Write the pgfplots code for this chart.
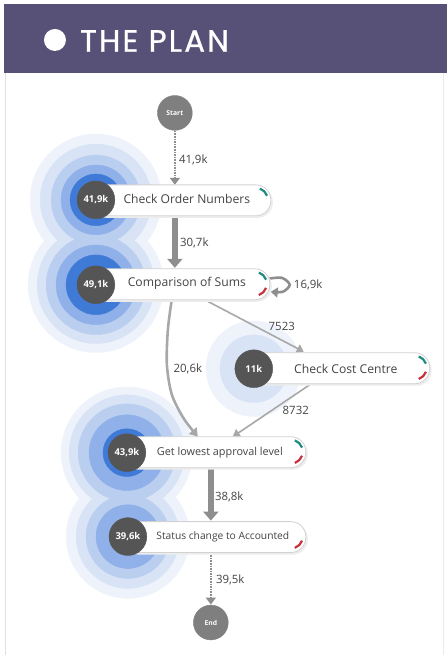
\documentclass[border=0pt]{standalone}
\usepackage{pgfplots}
\pgfplotsset{compat=1.18}
\usepackage{fontspec}
\setmainfont{Open Sans}
\newfontfamily\titlefont[LetterSpace=7,FakeBold=0.8]{Poppins}
\usetikzlibrary{arrows.meta}
\definecolor{band}{HTML}{575177}
\definecolor{hA}{HTML}{EEF3FB}
\definecolor{hB}{HTML}{D8E3F6}
\definecolor{hC}{HTML}{BACEF0}
\definecolor{hD}{HTML}{8FB0E8}
\definecolor{hE}{HTML}{3F7BD6}
\definecolor{darknode}{HTML}{555555}
\definecolor{endnode}{HTML}{7F7F7F}
\definecolor{edge}{HTML}{8E8E8E}
\definecolor{edgelight}{HTML}{A8A8A8}
\definecolor{boxline}{HTML}{D2D2D2}
\definecolor{tealc}{HTML}{1E8A80}
\definecolor{redc}{HTML}{C8303C}
\definecolor{lbl}{HTML}{444444}
\pgfplotsset{ring/.style={only marks, mark=*, mark size=#1}}
\begin{document}
\begin{tikzpicture}
\begin{axis}[scale only axis, width=447bp, height=655bp,
  xmin=0, xmax=447, ymin=0, ymax=655, y dir=reverse,
  hide axis, clip=false, clip marker paths=true, clip mode=individual]
% background and header
\fill[white] (axis cs:0,0) rectangle (axis cs:447,655);
\draw[black!12, line width=1bp] (axis cs:5.5,73) -- (axis cs:5.5,655);
\draw[black!8, line width=1bp] (axis cs:443.5,73) -- (axis cs:443.5,655);
\fill[band] (axis cs:4,4) rectangle (axis cs:447,73);
\fill[white] (axis cs:55,40) circle[radius=11bp];
\node[anchor=west, text=white, inner sep=0pt, font=\titlefont\fontsize{31}{31}\selectfont] at (axis cs:80,41) {THE PLAN};

% halos: outermost rings first
\addplot[ring=66pt, color=hA] coordinates {(96,200)};
\addplot[ring=68pt, color=hA] coordinates {(96,285)};
\addplot[ring=66pt, color=hA] coordinates {(127,453)};
\addplot[ring=62pt, color=hA] coordinates {(128,537)};
\addplot[ring=48pt, color=hA] coordinates {(254,369)};
\addplot[ring=56pt, color=hB] coordinates {(96,200)};
\addplot[ring=59pt, color=hB] coordinates {(96,285)};
\addplot[ring=58pt, color=hB] coordinates {(127,453)};
\addplot[ring=52pt, color=hB] coordinates {(128,537)};
\addplot[ring=34pt, color=hB] coordinates {(254,369)};
\addplot[ring=45pt, color=hC] coordinates {(96,200)};
\addplot[ring=50pt, color=hC] coordinates {(96,285)};
\addplot[ring=49pt, color=hC] coordinates {(127,453)};
\addplot[ring=42pt, color=hC] coordinates {(128,537)};
\addplot[ring=35pt, color=hD] coordinates {(96,200)};
\addplot[ring=40pt, color=hD] coordinates {(96,285)};
\addplot[ring=38pt, color=hD] coordinates {(127,453)};
\addplot[ring=32pt, color=hD] coordinates {(128,537)};
\addplot[ring=26pt, color=hE] coordinates {(96,200)};
\addplot[ring=30pt, color=hE] coordinates {(96,285)};
\addplot[ring=24pt, color=hE] coordinates {(127,453)};

% edges
\addplot[edge, line width=1.6pt, densely dotted, -{Triangle[width=10pt,length=7pt]}] coordinates {(175,131) (175,185)};
\addplot[edge, line width=6pt, -{Triangle[width=15pt,length=9pt]}] coordinates {(175,215) (175,268)};
\addplot[edgelight, line width=1.6pt, -{Triangle[width=9pt,length=7pt]}] coordinates {(203,299) (304,352)};
\addplot[edgelight, line width=2.6pt, smooth, -{Triangle[width=10pt,length=8pt]}] coordinates {(172,299) (168,330) (167,365) (172,395) (184,419) (198,437)};
\addplot[edgelight, line width=1.6pt, -{Triangle[width=9pt,length=7pt]}] coordinates {(313,383) (233,437)};
\addplot[edge, line width=6pt, -{Triangle[width=15pt,length=9pt]}] coordinates {(211,468) (211,521)};
\addplot[edge, line width=1.6pt, densely dotted, -{Triangle[width=10pt,length=7pt]}] coordinates {(211,553) (211,605)};
\addplot[edge, line width=2.6pt, smooth, -{Triangle[width=10pt,length=7pt]}] coordinates {(268,279) (282,278) (290,285) (283,292) (271,292)};

% boxes
\fill[black!7, rounded corners=15bp] (axis cs:92,187) rectangle (axis cs:273,218);
\draw[fill=white, draw=boxline, line width=0.8pt, rounded corners=15bp] (axis cs:90,185) rectangle (axis cs:271,216);
\fill[black!7, rounded corners=15bp] (axis cs:92,271) rectangle (axis cs:272,302);
\draw[fill=white, draw=boxline, line width=0.8pt, rounded corners=15bp] (axis cs:90,269) rectangle (axis cs:270,300);
\fill[black!7, rounded corners=15bp] (axis cs:252,355) rectangle (axis cs:432,386);
\draw[fill=white, draw=boxline, line width=0.8pt, rounded corners=15bp] (axis cs:250,353) rectangle (axis cs:430,384);
\fill[black!7, rounded corners=15bp] (axis cs:124,439) rectangle (axis cs:308,470);
\draw[fill=white, draw=boxline, line width=0.8pt, rounded corners=15bp] (axis cs:122,437) rectangle (axis cs:306,468);
\fill[black!7, rounded corners=15bp] (axis cs:124,524) rectangle (axis cs:308,555);
\draw[fill=white, draw=boxline, line width=0.8pt, rounded corners=15bp] (axis cs:122,522) rectangle (axis cs:306,553);

% status arcs
\draw[tealc, line width=2.2pt] (axis cs:256,200) ++(70:12bp) arc[start angle=70, end angle=20, radius=12bp];
\draw[tealc, line width=2.2pt] (axis cs:255,284) ++(70:12bp) arc[start angle=70, end angle=20, radius=12bp];
\draw[redc, line width=2.2pt] (axis cs:255,284) ++(-20:12bp) arc[start angle=-20, end angle=-70, radius=12bp];
\draw[tealc, line width=2.2pt] (axis cs:415,368) ++(70:12bp) arc[start angle=70, end angle=20, radius=12bp];
\draw[redc, line width=2.2pt] (axis cs:415,368) ++(-20:12bp) arc[start angle=-20, end angle=-70, radius=12bp];
\draw[tealc, line width=2.2pt] (axis cs:291,452) ++(70:12bp) arc[start angle=70, end angle=20, radius=12bp];
\draw[redc, line width=2.2pt] (axis cs:291,452) ++(-20:12bp) arc[start angle=-20, end angle=-70, radius=12bp];
\draw[redc, line width=2.2pt] (axis cs:291,537) ++(-20:12bp) arc[start angle=-20, end angle=-70, radius=12bp];

% node circles
\addplot[ring=19pt, color=darknode] coordinates {(96,200) (96,285) (254,369) (127,453) (128,537)};
\addplot[ring=17.5pt, color=endnode] coordinates {(175,113) (211,623)};

% node texts
\node[text=white, font=\bfseries\fontsize{6.8}{7}\selectfont] at (axis cs:175,113) {Start};
\node[text=white, font=\bfseries\fontsize{6.8}{7}\selectfont] at (axis cs:211,623) {End};
\node[text=white, font=\bfseries\fontsize{9.5}{10}\selectfont] at (axis cs:96,200) {41,9k};
\node[text=white, font=\bfseries\fontsize{9.5}{10}\selectfont] at (axis cs:96,285) {49,1k};
\node[text=white, font=\bfseries\fontsize{9.5}{10}\selectfont] at (axis cs:254,369) {11k};
\node[text=white, font=\bfseries\fontsize{9.5}{10}\selectfont] at (axis cs:127,453) {43,9k};
\node[text=white, font=\bfseries\fontsize{9.5}{10}\selectfont] at (axis cs:128,537) {39,6k};

\node[text=lbl, font=\fontsize{12.2}{13}\selectfont] at (axis cs:187,199) {Check Order Numbers};
\node[text=lbl, font=\fontsize{12.2}{13}\selectfont] at (axis cs:187,284) {Comparison of Sums};
\node[text=lbl, font=\fontsize{12.2}{13}\selectfont] at (axis cs:346,369) {Check Cost Centre};
\node[text=lbl, font=\fontsize{10.9}{12}\selectfont] at (axis cs:220,453) {Get lowest approval level};
\node[text=lbl, font=\fontsize{10.3}{12}\selectfont] at (axis cs:223,537) {Status change to Accounted};

% edge labels
\node[anchor=west, inner sep=0pt, text=lbl, font=\fontsize{11.5}{12}\selectfont] at (axis cs:179,160) {41,9k};
\node[anchor=west, inner sep=0pt, text=lbl, font=\fontsize{11.5}{12}\selectfont] at (axis cs:180,243) {30,7k};
\node[anchor=west, inner sep=0pt, text=lbl, font=\fontsize{11.5}{12}\selectfont] at (axis cs:294,285) {16,9k};
\node[text=lbl, inner sep=0pt, font=\fontsize{11.5}{12}\selectfont] at (axis cs:282,327) {7523};
\node[text=lbl, inner sep=0pt, font=\fontsize{11.5}{12}\selectfont] at (axis cs:188,369) {20,6k};
\node[text=lbl, inner sep=0pt, font=\fontsize{11.5}{12}\selectfont] at (axis cs:296,411) {8732};
\node[anchor=west, inner sep=0pt, text=lbl, font=\fontsize{11.5}{12}\selectfont] at (axis cs:215,497) {38,8k};
\node[anchor=west, inner sep=0pt, text=lbl, font=\fontsize{11.5}{12}\selectfont] at (axis cs:216,580) {39,5k};
\end{axis}
\end{tikzpicture}
\end{document}
